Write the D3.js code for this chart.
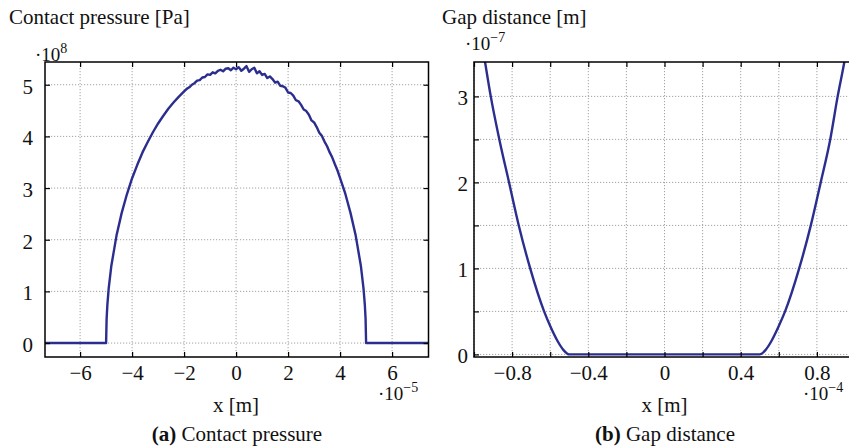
<!DOCTYPE html>
<html>
<head>
<meta charset="utf-8">
<script src="https://cdn.jsdelivr.net/npm/d3@7"></script>
<style>
  body { margin: 0; background: #fff; }
</style>
</head>
<body>
<div id="chart"></div>
<script>
// ---- data (x in units of the axis multiplier) ----
// (a) contact pressure, x in 1e-5 m, p in 1e8 Pa
var pressureX = [-7.4, -5.0, -4.98, -4.95, -4.9, -4.8, -4.6, -4.4, -4.2, -4.0, -3.8, -3.6, -3.4, -3.2, -3.0,
  -2.8, -2.6, -2.4, -2.2, -2.0, -1.9, -1.8, -1.7, -1.6, -1.5, -1.4, -1.3, -1.2, -1.1, -1.0,
  -0.9, -0.8, -0.7, -0.6, -0.5, -0.4, -0.3, -0.2, -0.1, 0.0, 0.1, 0.2, 0.3, 0.4, 0.5,
  0.6, 0.7, 0.8, 0.9, 1.0, 1.1, 1.2, 1.3, 1.4, 1.5, 1.6, 1.7, 1.8, 1.9, 2.0,
  2.1, 2.2, 2.3, 2.4, 2.5, 2.6, 2.7, 2.8, 2.9, 3.0, 3.1, 3.2, 3.3, 3.4, 3.5,
  3.6, 3.7, 3.8, 3.9, 4.0, 4.2, 4.4, 4.6, 4.8, 4.9, 4.95, 4.98, 5.0, 7.4];
var pressureY = [0, 0, 0.47, 0.75, 1.06, 1.49, 2.08, 2.52, 2.88, 3.19, 3.45, 3.69, 3.89, 4.08, 4.25,
  4.40, 4.54, 4.66, 4.77, 4.87, 4.92, 4.95, 5.00, 5.03, 5.08, 5.09, 5.14, 5.15, 5.20, 5.19,
  5.24, 5.22, 5.27, 5.29, 5.26, 5.31, 5.32, 5.28, 5.33, 5.30, 5.34, 5.27, 5.31, 5.36, 5.25,
  5.30, 5.33, 5.22, 5.26, 5.19, 5.21, 5.13, 5.16, 5.11, 5.04, 5.06, 4.98, 4.97, 4.94, 4.85,
  4.84, 4.79, 4.70, 4.68, 4.61, 4.52, 4.49, 4.42, 4.31, 4.27, 4.18, 4.07, 4.01, 3.90, 3.81,
  3.69, 3.59, 3.46, 3.34, 3.19, 2.89, 2.52, 2.08, 1.49, 1.06, 0.75, 0.47, 0, 0];

// (b) gap distance, x in 1e-4 m, g in 1e-7 m
var gapX = [-1.0, -0.942, -0.912, -0.867, -0.816, -0.765, -0.705, -0.632, -0.6, -0.56, -0.53, -0.5,
  0.5, 0.53, 0.56, 0.6, 0.633, 0.707, 0.768, 0.82, 0.87, 0.909, 0.944, 1.0];
var gapY = [4.2, 3.4, 3.0, 2.5, 2.0, 1.5, 1.0, 0.5, 0.33, 0.15, 0.05, 0,
  0, 0.05, 0.15, 0.33, 0.5, 1.0, 1.5, 2.0, 2.5, 3.0, 3.4, 4.2];

// ticks and labels
var pressureXTicks = [-6, -4, -2, 0, 2, 4, 6];
var pressureXLabels = ["\u22126", "\u22124", "\u22122", "0", "2", "4", "6"];
var pressureYTicks = [0, 1, 2, 3, 4, 5];
var pressureYLabels = ["0", "1", "2", "3", "4", "5"];
var gapXTicks = [-1.0, -0.8, -0.6, -0.4, -0.2, 0, 0.2, 0.4, 0.6, 0.8, 1.0];
var gapXLabels = ["", "\u22120.8", "", "\u22120.4", "", "0", "", "0.4", "", "0.8", ""];
var gapYTicks = [0, 0.5, 1, 1.5, 2, 2.5, 3];
var gapYLabels = ["0", "", "1", "", "2", "", "3"];

var W = 849, H = 448;
var lineColor = "#2b2e8e";
var serif = "'Liberation Serif', serif";

var svg = d3.select("#chart").append("svg")
  .attr("width", W)
  .attr("height", H)
  .style("font-family", serif);

// one panel: draws grid, curve, box, ticks and labels
function panel(o) {
  var x = d3.scaleLinear().domain(o.xDomain).range(o.xRange);
  var y = d3.scaleLinear().domain(o.yDomain).range(o.yRange);
  var g = svg.append("g");

  var left = o.xRange[0], right = o.xRange[1], top = o.yRange[1], bottom = o.yRange[0];

  // clip
  g.append("clipPath").attr("id", o.id + "-clip")
    .append("rect")
      .attr("x", left).attr("y", top)
      .attr("width", right - left).attr("height", bottom - top);

  // grid
  g.selectAll(".vgrid").data(o.xTicks).enter()
    .append("line")
      .attr("x1", function(d) { return x(d); })
      .attr("x2", function(d) { return x(d); })
      .attr("y1", top).attr("y2", bottom)
      .style("stroke", "#a3a3a3")
      .style("stroke-width", 1)
      .style("stroke-dasharray", "1.2,1.8");
  g.selectAll(".hgrid").data(o.yTicks).enter()
    .append("line")
      .attr("y1", function(d) { return y(d); })
      .attr("y2", function(d) { return y(d); })
      .attr("x1", left).attr("x2", right)
      .style("stroke", "#a3a3a3")
      .style("stroke-width", 1)
      .style("stroke-dasharray", "1.2,1.8");

  // curve
  var pts = o.xs.map(function(v, i) { return [v, o.ys[i]]; });
  g.append("path")
    .datum(pts)
    .attr("clip-path", "url(#" + o.id + "-clip)")
    .attr("d", d3.line()
      .curve(o.curve)
      .x(function(d) { return x(d[0]); })
      .y(function(d) { return y(d[1]); }))
    .style("fill", "none")
    .style("stroke", lineColor)
    .style("stroke-width", 2.4)
    .style("stroke-linejoin", "round");

  // inward ticks on all four sides
  var tk = 5;
  function tickFmt(labels, ticks) {
    return function(d) { return labels[ticks.indexOf(d)]; };
  }
  var ax = g.append("g").attr("transform", "translate(0," + bottom + ")")
    .call(d3.axisBottom(x).tickValues(o.xTicks).tickSizeInner(-tk).tickSizeOuter(0)
      .tickPadding(o.xPad).tickFormat(tickFmt(o.xLabels, o.xTicks)));
  var ay = g.append("g").attr("transform", "translate(" + left + ",0)")
    .call(d3.axisLeft(y).tickValues(o.yTicks).tickSizeInner(-tk).tickSizeOuter(0)
      .tickPadding(o.yPad).tickFormat(tickFmt(o.yLabels, o.yTicks)));
  g.append("g").attr("transform", "translate(0," + top + ")")
    .call(d3.axisTop(x).tickValues(o.xTicks).tickSizeInner(-tk).tickSizeOuter(0).tickFormat(""));
  g.append("g").attr("transform", "translate(" + right + ",0)")
    .call(d3.axisRight(y).tickValues(o.yTicks).tickSizeInner(-tk).tickSizeOuter(0).tickFormat(""));

  g.selectAll(".domain").remove();
  g.selectAll(".tick line").style("stroke", "#000").style("stroke-width", 1.2);
  g.selectAll(".tick text")
    .style("font-family", serif)
    .style("font-size", "21px")
    .style("fill", "#111");
  ay.selectAll(".tick text").attr("dy", "0.4em");

  // box
  g.append("rect")
    .attr("x", left).attr("y", top)
    .attr("width", right - left).attr("height", bottom - top)
    .style("fill", "none")
    .style("stroke", "#000")
    .style("stroke-width", 1.5);

  // texts
  function label(px, py, size, anchor) {
    return g.append("text").attr("x", px).attr("y", py)
      .attr("text-anchor", anchor || "start")
      .style("font-family", serif)
      .style("font-size", size + "px")
      .style("fill", "#111");
  }
  function sci(px, py, exp) {
    var t = label(px, py, 19);
    t.append("tspan").text("\u00b710");
    t.append("tspan").attr("dy", -8).style("font-size", "14px").text(exp);
  }
  label(o.titleX, 24, 21).text(o.title);
  sci(o.yExpX, o.yExpY, o.yExp);
  sci(o.xExpX, 400, o.xExp);
  label(x(0), 412, 21, "middle").text("x [m]");
  var cap = label(o.capX, 441, 21, "middle");
  cap.append("tspan").style("font-weight", "bold").text(o.capTag);
  cap.append("tspan").text(" " + o.caption);
}

panel({
  id: "pressure",
  xs: pressureX, ys: pressureY, curve: d3.curveLinear,
  xDomain: [-7.35, 7.4], xRange: [45, 428.5],
  yDomain: [-0.27, 5.44], yRange: [357, 62],
  xTicks: pressureXTicks, xLabels: pressureXLabels,
  yTicks: pressureYTicks, yLabels: pressureYLabels,
  xPad: 8, yPad: 12,
  title: "Contact pressure [Pa]", titleX: 9,
  yExp: "8", yExpX: 35, yExpY: 61,
  xExp: "\u22125", xExpX: 378,
  capTag: "(a)", caption: "Contact pressure", capX: 237
});

panel({
  id: "gap",
  xs: gapX, ys: gapY, curve: d3.curveMonotoneX,
  xDomain: [-1, 1], xRange: [474, 855],
  yDomain: [-0.03, 3.4], yRange: [357, 62],
  xTicks: gapXTicks, xLabels: gapXLabels,
  yTicks: gapYTicks, yLabels: gapYLabels,
  xPad: 8, yPad: 6,
  title: "Gap distance [m]", titleX: 442,
  yExp: "\u22127", yExpX: 465, yExpY: 50,
  xExp: "\u22124", xExpX: 803,
  capTag: "(b)", caption: "Gap distance", capX: 665
});
</script>
</body>
</html>
